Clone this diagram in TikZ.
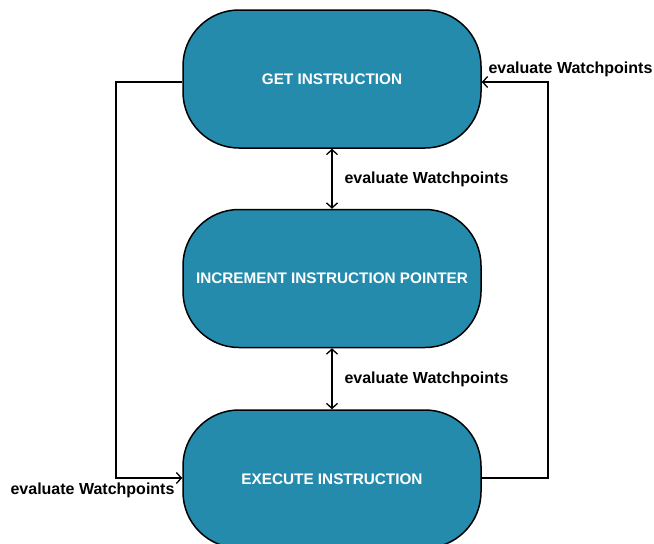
\documentclass[tikz,border=0pt]{standalone}
\usepackage{fontspec}
\setmainfont{Liberation Sans}
\usetikzlibrary{arrows.meta}

\definecolor{stepblue}{RGB}{37,139,172}

\tikzset{
    stage/.style={draw=black, line width=1.5pt, fill=stepblue, rounded corners=56pt,
        minimum width=298pt, minimum height=138pt, text=white, font=\bfseries\fontsize{15.3}{17}\selectfont},
    flow/.style={line width=1.3pt, ->},
    note/.style={font=\bfseries\fontsize{16}{18}\selectfont}
}

\begin{document}
\begin{tikzpicture}[x=1pt, y=-1pt, >={Straight Barb[length=5pt,width=11pt]}]
        \useasboundingbox (0,0) rectangle (654,544);

        % the three stages
        \node[stage] (get) at (332,79) {GET INSTRUCTION};
        \node[stage] (incr) at (332,278.5) {INCREMENT INSTRUCTION POINTER};
        \node[stage] (exec) at (332,479) {EXECUTE INSTRUCTION};

        % between the stages
        \draw[flow, <->] (get) -- (incr);
        \draw[flow, <->] (incr) -- (exec);
        \node[note, anchor=west] (w1) at (341,179) {evaluate Watchpoints};
        \node[note, anchor=west] (w2) at (341,379) {evaluate Watchpoints};

        % loops round the outside
        \coordinate (lt) at (116,82);
        \coordinate (rb) at (548,478);
        \draw[flow] (get.west |- lt) -- (lt) |- (exec.west |- rb);
        \draw[flow] (exec.east |- rb) -- (rb) |- (get.east |- lt);
        \node[note, anchor=west] (w3) at (485,69) {evaluate Watchpoints};
        \node[note, anchor=east] (w4) at (178,490) {evaluate Watchpoints};
    \end{tikzpicture}
\end{document}
